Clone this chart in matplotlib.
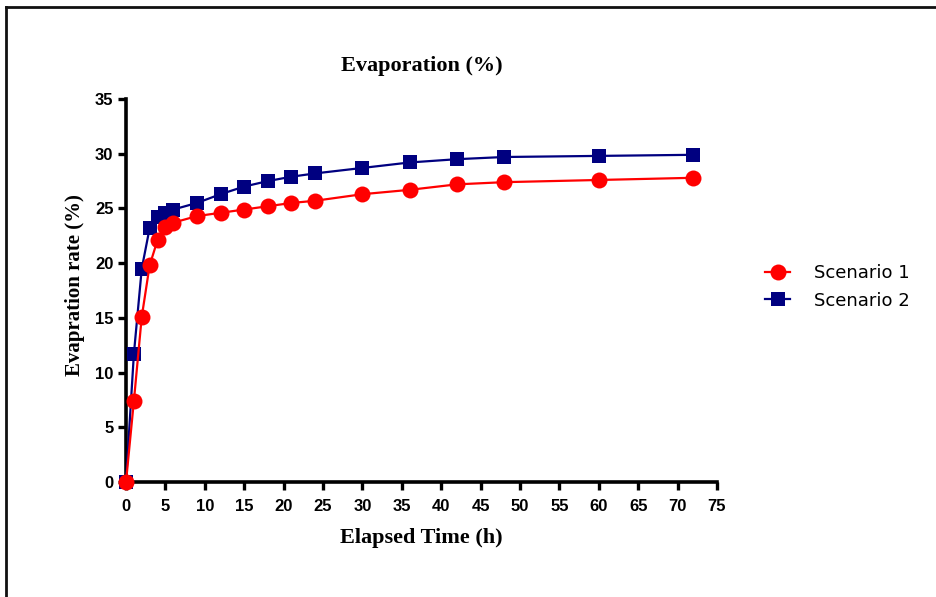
import matplotlib
matplotlib.use("Agg")
import matplotlib.pyplot as plt
from matplotlib.lines import Line2D

# Elapsed time (h) and evaporation (%) for each scenario
time_h = [0, 1, 2, 3, 4, 5, 6, 9, 12, 15, 18, 21, 24, 30, 36, 42, 48, 60, 72]
scenario_1 = [0, 7.4, 15.1, 19.8, 22.1, 23.3, 23.7, 24.3, 24.6, 24.9, 25.2, 25.5,
              25.7, 26.3, 26.7, 27.2, 27.4, 27.6, 27.8]
scenario_2 = [0, 11.7, 19.5, 23.2, 24.2, 24.6, 24.9, 25.5, 26.3, 27.0, 27.5, 27.9,
              28.2, 28.7, 29.2, 29.5, 29.7, 29.8, 29.9]
series_names = ["Scenario 1", "Scenario 2"]
x_ticks = list(range(0, 80, 5))
y_ticks = list(range(0, 40, 5))

W, H = 937, 597
fig = plt.figure(figsize=(W / 100, H / 100), dpi=100)
ax = fig.add_axes([126 / W, 1 - 482 / H, (717 - 126) / W, (482 - 99) / H])

ax.plot(time_h, scenario_1, color="#ff0000", lw=1.6, marker="o", ms=11.5,
        markeredgewidth=0, clip_on=False, zorder=4, label=series_names[0])
ax.plot(time_h, scenario_2, color="#000080", lw=1.6, marker="s", ms=10.5,
        markeredgewidth=0, clip_on=False, zorder=3, label=series_names[1])

ax.set_xlim(0, 75)
ax.set_ylim(0, 35)
ax.set_xticks(x_ticks)
ax.set_yticks(y_ticks)

for side in ("top", "right"):
    ax.spines[side].set_visible(False)
for side in ("left", "bottom"):
    ax.spines[side].set_linewidth(2.6)
ax.tick_params(direction="out", length=6, width=2.4)
ax.tick_params(axis="x", pad=6)
ax.tick_params(axis="y", pad=3)
for lab in ax.get_xticklabels() + ax.get_yticklabels():
    lab.set_fontfamily("Liberation Sans")
    lab.set_fontweight("bold")
    lab.set_fontsize(12)

ax.set_xlabel("Elapsed Time (h)", labelpad=10, family="Liberation Serif",
              weight="bold", fontsize=16)
ax.set_ylabel("Evapration rate (%)", family="Liberation Serif",
              weight="bold", fontsize=15)
ax.yaxis.set_label_coords(-0.070, 0.515)
fig.text((126 + 717) / 2 / W, 1 - 66 / H, "Evaporation (%)", ha="center",
         va="center", family="Liberation Serif", weight="bold", fontsize=16)

handles = [
    Line2D([], [], color="#ff0000", lw=1.6, marker="o", ms=11.5, markeredgewidth=0),
    Line2D([], [], color="#000080", lw=1.6, marker="s", ms=10.5, markeredgewidth=0),
]
fig.legend(handles, series_names, loc="center left",
           bbox_to_anchor=(765 / W, 1 - 287 / H), frameon=False,
           prop=dict(family="DejaVu Sans", size=13), handlelength=1.4,
           handletextpad=1.3, labelspacing=0.5, borderaxespad=0, borderpad=0)

# Frame lines along the top and left edges
fig.add_artist(Line2D([6 / W, 1], [1 - 7 / H, 1 - 7 / H], transform=fig.transFigure,
                      color="#111111", lw=2))
fig.add_artist(Line2D([6 / W, 6 / W], [0, 1 - 7 / H], transform=fig.transFigure,
                      color="#111111", lw=2))

fig.savefig("out.png", dpi=100)
